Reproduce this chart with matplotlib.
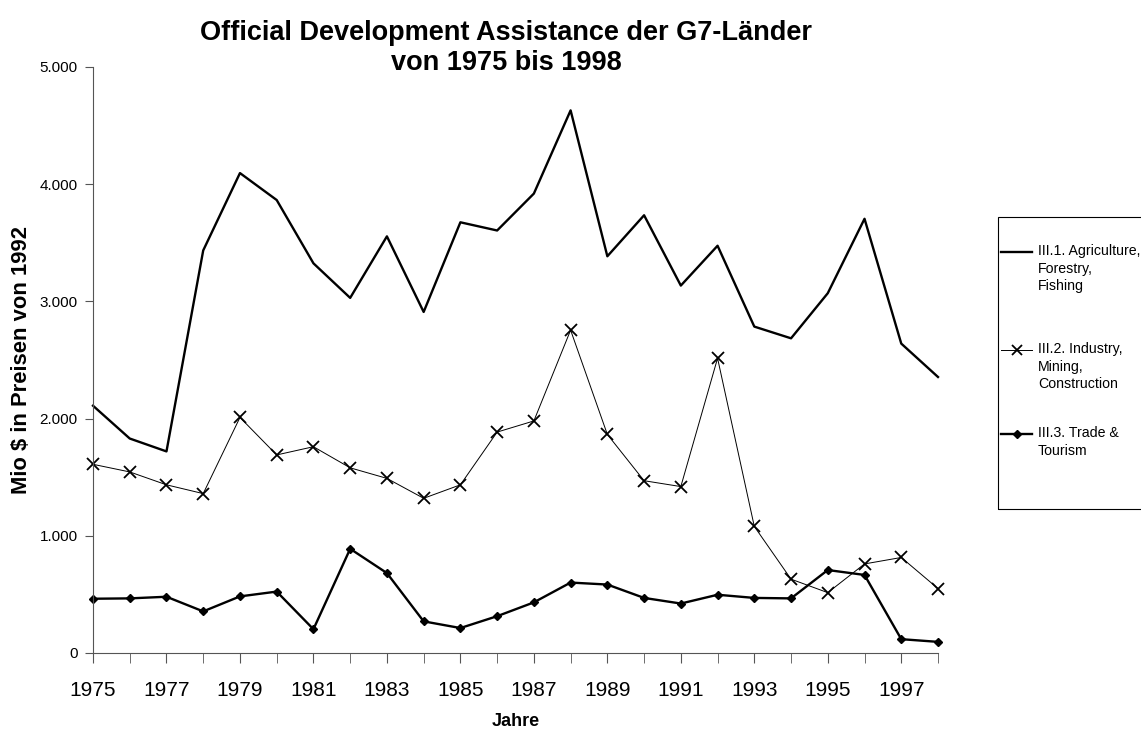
import matplotlib
matplotlib.use('Agg')
import matplotlib.pyplot as plt
from matplotlib.lines import Line2D
from matplotlib.patches import Rectangle
from matplotlib.ticker import FuncFormatter, MultipleLocator

plt.rcParams['font.family'] = ['Liberation Sans', 'DejaVu Sans']

# Daten (Mio $ in Preisen von 1992)
years = list(range(1975, 1999))
agriculture = [2110, 1830, 1720, 3435, 4095, 3865, 3325, 3030, 3555, 2910, 3675, 3605,
               3920, 4630, 3385, 3735, 3135, 3475, 2785, 2685, 3070, 3705, 2640, 2355]
industry = [1610, 1545, 1435, 1360, 2010, 1690, 1760, 1580, 1490, 1320, 1435, 1885,
            1980, 2755, 1865, 1470, 1420, 2515, 1080, 630, 515, 760, 815, 550]
trade = [463, 466, 480, 355, 483, 524, 203, 889, 682, 270, 213, 314,
         432, 601, 584, 470, 422, 497, 470, 466, 708, 666, 118, 95]
labels = ['III.1. Agriculture,\nForestry,\nFishing',
          'III.2. Industry,\nMining,\nConstruction',
          'III.3. Trade &\nTourism']

W, H = 1141, 731
fig = plt.figure(figsize=(W / 100, H / 100), dpi=100)
ax = fig.add_axes([93 / W, 1 - 653 / H, (938 - 93) / W, (653 - 67) / H])

ax.plot(years, agriculture, color='black', lw=1.7, clip_on=False)
ax.plot(years, industry, color='black', lw=0.7, marker='x', ms=8, mew=1.3, clip_on=False)
ax.plot(years, trade, color='black', lw=1.7, marker='D', ms=4, clip_on=False)

ax.set_xlim(1975, 1998)
ax.set_ylim(0, 5000)
ax.set_xticks(years[::2])
ax.xaxis.set_minor_locator(MultipleLocator(1))
ax.yaxis.set_major_locator(MultipleLocator(1000))
ax.yaxis.set_major_formatter(FuncFormatter(lambda v, p: f'{int(v):,}'.replace(',', '.')))
for s in ['top', 'right']:
    ax.spines[s].set_visible(False)
for s in ['left', 'bottom']:
    ax.spines[s].set_color('#555555')
    ax.spines[s].set_linewidth(0.8)
ax.tick_params(axis='x', which='both', length=7, color='#555555', labelsize=15, pad=13)
ax.tick_params(axis='y', length=6, color='#555555', labelsize=11, pad=5)

ax.set_xlabel('Jahre', fontsize=13, fontweight='bold')
ax.xaxis.set_label_coords(0.5, -0.103)
ax.set_ylabel('Mio $ in Preisen von 1992', fontsize=15.8, fontweight='bold')
ax.yaxis.set_label_coords(-0.0722, 0.5)
fig.text(506 / W, 1 - 48 / H, 'Official Development Assistance der G7-Länder\nvon 1975 bis 1998',
         ha='center', va='center', fontsize=19.5, fontweight='bold', linespacing=1.15)

# Legende (von Hand, Rahmen ragt über den Rand hinaus)
fig.add_artist(Rectangle((998 / W, 1 - 509 / H), 0.2, (509 - 217) / H,
                         transform=fig.transFigure, fill=False, edgecolor='black', lw=0.8))
styles = [dict(lw=1.7), dict(lw=0.7, marker='x', ms=7, mew=1.3), dict(lw=1.7, marker='D', ms=4)]
tops = [244, 342, 426]
for lab, st, top in zip(labels, styles, tops):
    yy = 1 - (top + 8) / H
    fig.add_artist(Line2D([1001 / W, 1016.5 / W, 1032 / W], [yy, yy, yy], color='black',
                          transform=fig.transFigure, markevery=[1], **st))
    fig.text(1038 / W, 1 - top / H, lab, ha='left', va='top', fontsize=10.2, linespacing=1.32)

fig.savefig('out.png', dpi=100)
